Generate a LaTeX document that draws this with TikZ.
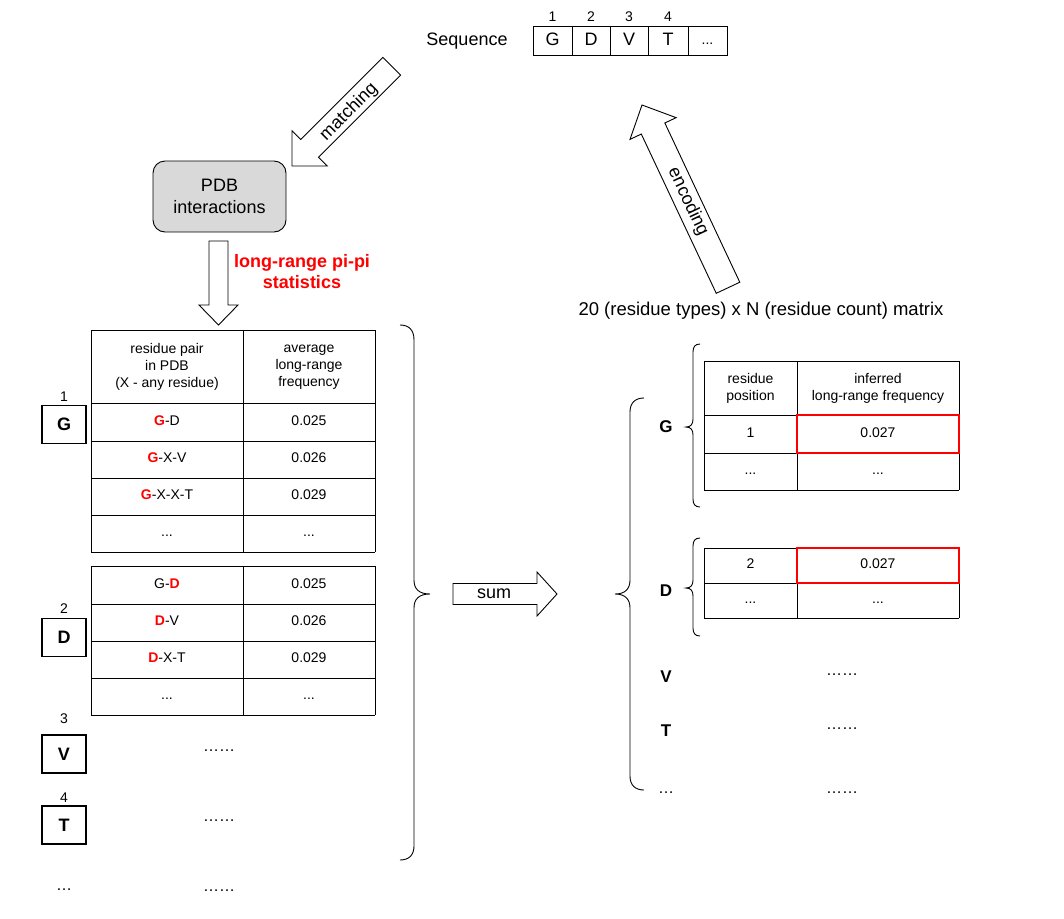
\documentclass[tikz,border=0pt]{standalone}
\usepackage{fontspec}
\setmainfont{Liberation Sans}
\usetikzlibrary{calc}
\definecolor{pdbgray}{HTML}{D9D9D9}
\newcommand{\fs}[1]{\fontsize{#1}{#1}\selectfont}
\newcommand{\ph}{\vphantom{0Ag}}
% block arrow: tip x, tip y, direction angle (canvas), total length, head length, head width, shaft width
\newcommand{\blockarrow}[7]{%
  \begin{scope}[shift={(#1,#2)}, rotate=#3]
    \draw[arrowline] (0,0) -- (-#5,#6/2) -- (-#5,#7/2) -- (-#4,#7/2) -- (-#4,-#7/2) -- (-#5,-#7/2) -- (-#5,-#6/2) -- cycle;
  \end{scope}}
\tikzset{
  arrowline/.style={draw=black, fill=white, line width=0.9pt, line join=miter},
  grid/.style={draw=black, line width=0.9pt},
  big/.style={font=\fs{18}, inner sep=0pt},
  cell/.style={font=\fs{14}, inner sep=0pt, align=center},
  num/.style={font=\fs{14}, inner sep=0pt},
  resbox/.style={draw=black, line width=1.6pt, minimum width=44pt, minimum height=38pt, font=\fs{18}\bfseries, inner sep=0pt},
  brace/.style={draw=black, line width=0.9pt},
  redbox/.style={draw=red, line width=1.5pt},
  dots/.style={font=\fs{16}, inner sep=0pt},
}
\begin{document}
\begin{tikzpicture}[x=1pt, y=-1pt]
\useasboundingbox (0,0) rectangle (1064,918);

% ---- Sequence ----
\node[big] (seqlabel) at (467,41) {Sequence\ph};
\foreach \xa/\xb/\t/\n [count=\i] in {533/572/G/1, 572/610/D/2, 610/648/V/3, 648/688/T/4} {
  \draw[grid] (\xa,26) rectangle (\xb,55);
  \node[big] (seq\i) at ({(\xa+\xb)/2},41) {\t\ph};
  \node[num] (seqn\i) at ({(\xa+\xb)/2},17) {\n};
}
\draw[grid] (688,26) rectangle (727,55);
\node[cell] (seq5) at (707.5,41) {...\ph};

% ---- matching arrow ----
\blockarrow{292}{166}{225}{141}{25}{50}{25}
\node[big, rotate=45] (matching) at (349,112) {matching};

% ---- PDB box ----
\node[draw=black, fill=pdbgray, rounded corners=12pt, line width=0.9pt, minimum width=133pt, minimum height=71pt, align=center, font=\fs{18}, inner sep=0pt] (pdb) at (219.5,196.5) {PDB\\[4pt]interactions};

% ---- down arrow ----
\blockarrow{218.5}{325}{-90}{84}{20}{39}{19}
\node[font=\fs{18}\bfseries, text=red, align=center, inner sep=0pt] (stats) at (302,272) {long-range pi-pi\\[3pt]statistics};

% ---- encoding arrow ----
\blockarrow{642}{105}{115.2}{202}{26}{51}{26}
\node[big, rotate=-64.8] (encoding) at (688,202) {encoding};

\node[font=\fs{18.5}, inner sep=0pt] (matrix) at (761,311) {20 (residue types) x N (residue count) matrix};

% ---- left table 1 ----
\foreach \y in {330,403,441,478,515,552} { \draw[grid] (91,\y) -- (375,\y); }
\draw[grid] (91,330) -- (91,552); \draw[grid] (243,330) -- (243,552); \draw[grid] (375,330) -- (375,552);
\node[cell] (h1) at (167,367) {residue pair\\[3pt]in PDB\\[3pt](X - any residue)};
\node[cell] (h2) at (309,367) {average\\[3pt]long-range\\[3pt]frequency};
\node[cell] (a1) at (167,422) {\textcolor{red}{\textbf{G}}-D\ph};
\node[cell] (b1) at (309,422) {0.025\ph};
\node[cell] (a2) at (167,459.5) {\textcolor{red}{\textbf{G}}-X-V\ph};
\node[cell] (b2) at (309,459.5) {0.026\ph};
\node[cell] (a3) at (167,496.5) {\textcolor{red}{\textbf{G}}-X-X-T\ph};
\node[cell] (b3) at (309,496.5) {0.029\ph};
\node[cell] (a4) at (167,533.5) {...\ph};
\node[cell] (b4) at (309,533.5) {...\ph};

% ---- left table 2 ----
\foreach \y in {566,604,641,678,715} { \draw[grid] (91,\y) -- (375,\y); }
\draw[grid] (91,566) -- (91,715); \draw[grid] (243,566) -- (243,715); \draw[grid] (375,566) -- (375,715);
\node[cell] (c1) at (167,585) {G-\textcolor{red}{\textbf{D}}\ph};
\node[cell] (d1) at (309,585) {0.025\ph};
\node[cell] (c2) at (167,622.5) {\textcolor{red}{\textbf{D}}-V\ph};
\node[cell] (d2) at (309,622.5) {0.026\ph};
\node[cell] (c3) at (167,659.5) {\textcolor{red}{\textbf{D}}-X-T\ph};
\node[cell] (d3) at (309,659.5) {0.029\ph};
\node[cell] (c4) at (167,696.5) {...\ph};
\node[cell] (d4) at (309,696.5) {...\ph};

% ---- residue boxes ----
\node[resbox] (rG) at (64,424.5) {G};
\node[num] (nG) at (64,397) {1};
\node[resbox] (rD) at (64,637.5) {D};
\node[num] (nD) at (64,609) {2};
\node[resbox] (rV) at (64,754) {V};
\node[num] (nV) at (64,719) {3};
\node[resbox] (rT) at (64,825) {T};
\node[num] (nT) at (64,798) {4};
\node[dots] (lmore) at (64,890) {…};
\node[dots] (ldV) at (219,751) {……};
\node[dots] (ldT) at (219,821) {……};
\node[dots] (ldM) at (219,891) {……};

% ---- big right brace (left side) ----
\draw[brace] (400,325) .. controls (409,325) and (414,330) .. (414,340) -- (414,580)
  .. controls (414,589) and (419,594) .. (430,594)
  .. controls (419,594) and (414,599) .. (414,608) -- (414,846)
  .. controls (414,855) and (409,860) .. (400,860);

% ---- sum arrow ----
\blockarrow{557}{594}{0}{104}{20}{44}{21}
\node[big] (sum) at (494,594) {sum\ph};

% ---- big left brace (right side) ----
\draw[brace] (644,398) .. controls (635,398) and (630,403) .. (630,412) -- (630,580)
  .. controls (630,589) and (625,594) .. (615,594)
  .. controls (625,594) and (630,599) .. (630,608) -- (630,776)
  .. controls (630,785) and (635,790) .. (644,790);

% ---- small braces ----
\draw[brace] (700,344) .. controls (695,344) and (693,347) .. (693,352) -- (693,419)
  .. controls (693,424) and (691,427) .. (686,427)
  .. controls (691,427) and (693,430) .. (693,435) -- (693,499)
  .. controls (693,504) and (695,507) .. (700,507);
\draw[brace] (700,538) .. controls (695,538) and (693,541) .. (693,546) -- (693,580)
  .. controls (693,585) and (691,588) .. (686,588)
  .. controls (691,588) and (693,591) .. (693,596) -- (693,628)
  .. controls (693,633) and (695,636) .. (700,636);

% ---- right labels ----
\node[font=\fs{17}\bfseries, inner sep=0pt] (RG) at (666,427) {G};
\node[font=\fs{17}\bfseries, inner sep=0pt] (RD) at (666,591) {D};
\node[font=\fs{17}\bfseries, inner sep=0pt] (RV) at (666,677) {V};
\node[font=\fs{17}\bfseries, inner sep=0pt] (RT) at (666,731) {T};
\node[dots] (rmore) at (666,793) {…};
\node[dots] (rdV) at (842,675) {……};
\node[dots] (rdT) at (842,729) {……};
\node[dots] (rdM) at (842,793) {……};

% ---- right table 1 ----
\foreach \y in {361,415,453,490} { \draw[grid] (704,\y) -- (959,\y); }
\draw[grid] (704,361) -- (704,490); \draw[grid] (797,361) -- (797,490); \draw[grid] (959,361) -- (959,490);
\node[cell] (rh1) at (750.5,388) {residue\\[3pt]position};
\node[cell] (rh2) at (878,388) {inferred\\[3pt]long-range frequency};
\node[cell] (re1) at (750.5,434) {1\ph};
\node[cell] (rf1) at (878,434) {0.027\ph};
\node[cell] (re2) at (750.5,471.5) {...\ph};
\node[cell] (rf2) at (878,471.5) {...\ph};
\draw[redbox] (797,415) rectangle (959,453);

% ---- right table 2 ----
\foreach \y in {548,583,618} { \draw[grid] (704,\y) -- (959,\y); }
\draw[grid] (704,548) -- (704,618); \draw[grid] (797,548) -- (797,618); \draw[grid] (959,548) -- (959,618);
\node[cell] (rg1) at (750.5,565.5) {2\ph};
\node[cell] (rk1) at (878,565.5) {0.027\ph};
\node[cell] (rg2) at (750.5,600.5) {...\ph};
\node[cell] (rk2) at (878,600.5) {...\ph};
\draw[redbox] (797,548) rectangle (959,583);

\end{tikzpicture}
\end{document}
